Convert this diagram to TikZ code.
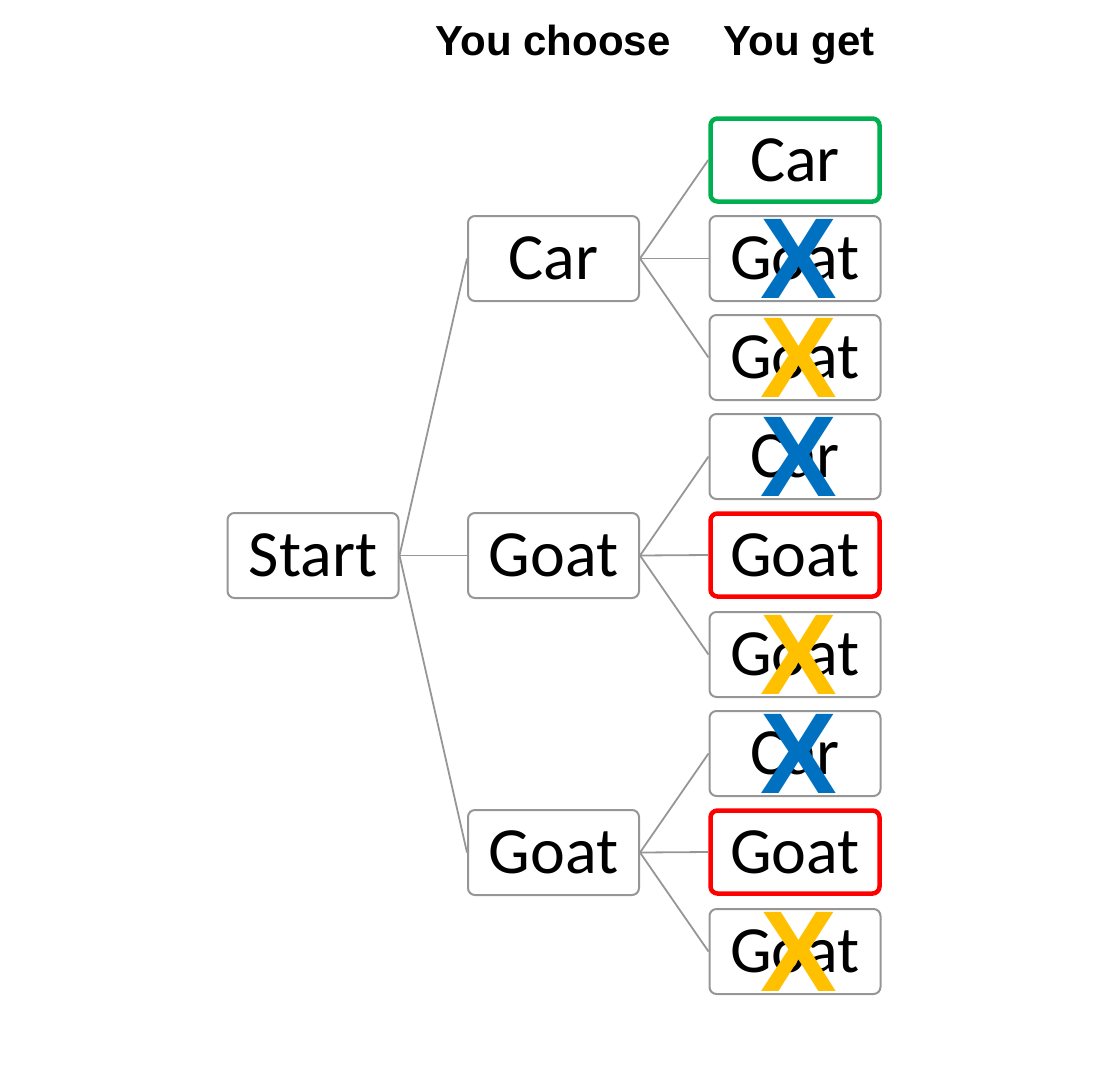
\documentclass[tikz,border=0pt]{standalone}
\usepackage{fontspec}
\setmainfont{Carlito}
\newfontfamily\headfont{Liberation Sans}
\definecolor{boxgray}{RGB}{150,150,150}
\definecolor{xblue}{RGB}{0,112,192}
\definecolor{xyellow}{RGB}{255,192,0}
\definecolor{okgreen}{RGB}{0,176,80}
\definecolor{badred}{RGB}{255,0,0}
\tikzset{
  box/.style={draw=boxgray, line width=2pt, rounded corners=7pt, fill=white,
    minimum width=171pt, minimum height=85pt, inner sep=0pt,
    font=\fontsize{66}{70}\selectfont},
  greenbox/.style={box, draw=okgreen, line width=4.5pt, minimum width=169pt, minimum height=83pt},
  redbox/.style={box, draw=badred, line width=4.5pt, minimum width=169pt, minimum height=83pt},
  link/.style={draw=boxgray, line width=1.8pt},
  head/.style={font=\headfont\bfseries\fontsize{42}{46}\selectfont, anchor=base, inner sep=0pt},
  xmark/.style={font=\headfont\bfseries\fontsize{115}{115}\selectfont, inner sep=0pt},
}
\begin{document}
\begin{tikzpicture}[x=1pt,y=-1pt]
\useasboundingbox (0,0) rectangle (1107,1087);
\node[head] (h1) at (553,55) {You choose};
\node[head] (h2) at (799,55) {You get};

\node[box] (s) at (313,555.5) {Start};
\node[box] (c1) at (553.5,258.5) {Car};
\node[box] (c2) at (553.5,555.5) {Goat};
\node[box] (c3) at (553.5,852.5) {Goat};

\node[greenbox] (g1) at (795,160) {Car};
\node[box] (g2) at (795,258.5) {Goat};
\node[box] (g3) at (795,357.5) {Goat};
\node[box] (g4) at (795,456.5) {Car};
\node[redbox] (g5) at (795,555) {Goat};
\node[box] (g6) at (795,654.5) {Goat};
\node[box] (g7) at (795,753.5) {Car};
\node[redbox] (g8) at (795,852) {Goat};
\node[box] (g9) at (795,951.5) {Goat};

\draw[link] (s.east) -- (c1.west);
\draw[link] (s.east) -- (c2.west);
\draw[link] (s.east) -- (c3.west);
\foreach \c/\a/\b/\d in {c1/g1/g2/g3, c2/g4/g5/g6, c3/g7/g8/g9}{
  \draw[link] (\c.east) -- (\a.west);
  \draw[link] (\c.east) -- (\b.west);
  \draw[link] (\c.east) -- (\d.west);
}

\node[xmark, text=xblue] (x2) at (799,258.5) {X};
\node[xmark, text=xyellow] (x3) at (799,357.5) {X};
\node[xmark, text=xblue] (x4) at (799,456.5) {X};
\node[xmark, text=xyellow] (x6) at (799,654.5) {X};
\node[xmark, text=xblue] (x7) at (799,753.5) {X};
\node[xmark, text=xyellow] (x9) at (799,951.5) {X};
\end{tikzpicture}
\end{document}
